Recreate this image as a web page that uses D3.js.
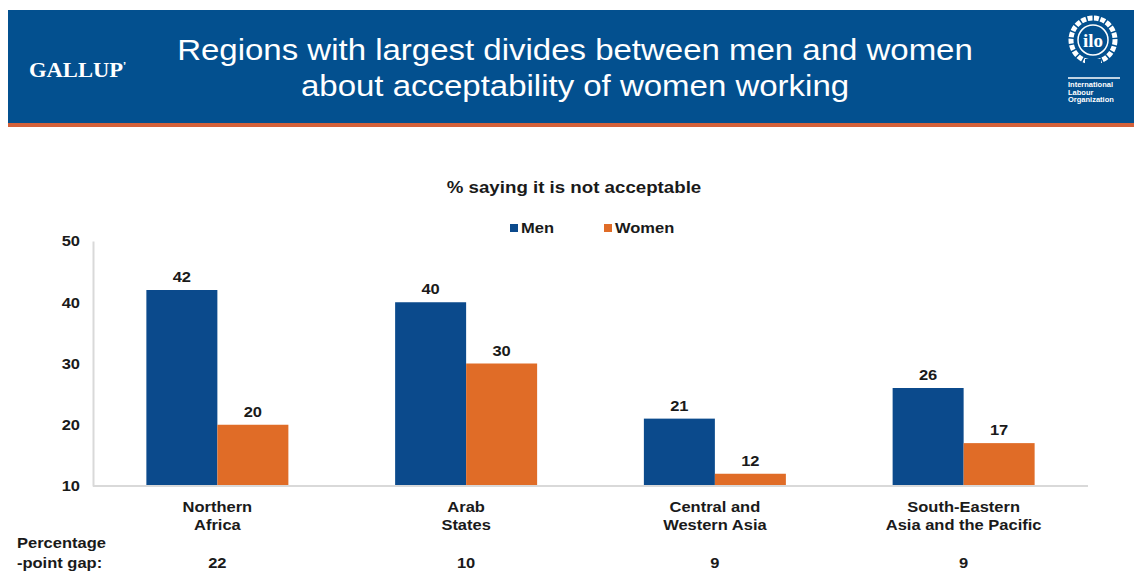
<!DOCTYPE html>
<html>
<head>
<meta charset="utf-8">
<script src="https://cdn.jsdelivr.net/npm/d3@7"></script>
<style>
  html, body { margin: 0; padding: 0; background: #fff; }
  svg { display: block; font-family: "Liberation Sans", Arial, sans-serif; }
</style>
</head>
<body>
<svg id="chart" width="1134" height="571"></svg>
<script>
// Survey results: share of respondents saying it is not acceptable for women to work
const regions = [
  ["Northern", "Africa"],
  ["Arab", "States"],
  ["Central and", "Western Asia"],
  ["South-Eastern", "Asia and the Pacific"]
];
const regionKeys = ["Northern Africa", "Arab States", "Central and Western Asia", "South-Eastern Asia and the Pacific"];
const men = [42, 40, 21, 26];
const women = [20, 30, 12, 17];
const gaps = [22, 10, 9, 9];
const seriesNames = ["Men", "Women"];
const yTicks = [10, 20, 30, 40, 50];

const W = 1134, H = 571;
const SX = 1.1; // slightly wide lettering
const colors = { Men: "#0b4a8c", Women: "#e06c27" };
const svg = d3.select("#chart");

function label(parent, x, y, text, opts = {}) {
  return parent.append("text")
    .attr("transform", `translate(${x},${y}) scale(${opts.sx || SX},1)`)
    .attr("text-anchor", opts.anchor || "middle")
    .attr("font-size", opts.size || 15)
    .attr("font-weight", opts.weight || "bold")
    .attr("fill", opts.fill || "#1a1a1a")
    .attr("font-family", opts.family || null)
    .text(text);
}

// ---- Header band ----
const header = svg.append("g");
header.append("rect").attr("x", 8).attr("y", 10).attr("width", W - 8).attr("height", 114).attr("fill", "#03508f");
header.append("rect").attr("x", 8).attr("y", 123).attr("width", W - 8).attr("height", 4).attr("fill", "#d4613a");

label(header, 575, 60, "Regions with largest divides between men and women", { size: 30, weight: "normal", fill: "#fff" });
label(header, 575, 96, "about acceptability of women working", { size: 30, weight: "normal", fill: "#fff" });

// Gallup wordmark
label(header, 29, 77, "GALLUP", { size: 20, weight: "bold", fill: "#fff", anchor: "start", family: "'Liberation Serif', 'DejaVu Serif', serif", sx: 1.0 })
  .attr("textLength", 94).attr("lengthAdjust", "spacingAndGlyphs");
header.append("text").attr("x", 123).attr("y", 70).attr("fill", "#fff")
  .attr("font-size", 11).attr("font-weight", "bold").text("’");

// ILO emblem
const ilo = header.append("g").attr("transform", "translate(1093,40)");
ilo.append("circle").attr("r", 22).attr("fill", "none").attr("stroke", "#fff").attr("stroke-width", 5)
  .attr("stroke-dasharray", "5 1.5");
ilo.append("circle").attr("r", 15).attr("fill", "none").attr("stroke", "#fff").attr("stroke-width", 1.5);
ilo.append("rect").attr("x", -8).attr("y", 19).attr("width", 16).attr("height", 6).attr("fill", "#03508f");
ilo.append("text").attr("y", 7).attr("text-anchor", "middle").attr("fill", "#fff")
  .attr("font-size", 19).attr("font-weight", "bold").attr("font-family", "'Liberation Serif', serif").text("ilo");
header.append("line").attr("x1", 1068).attr("x2", 1120).attr("y1", 78).attr("y2", 78)
  .attr("stroke", "#fff").attr("stroke-width", 1.5);
["International", "Labour", "Organization"].forEach((t, i) => {
  label(header, 1068, 87 + i * 7.5, t, { anchor: "start", size: 7.5, fill: "#fff", sx: 1.0 });
});

// ---- Chart ----
const x = d3.scaleBand().domain(regionKeys).range([93, 1088]).paddingInner(0).paddingOuter(0);
const innerPad = (x.bandwidth() - 142) / 2;
const xs = d3.scaleBand().domain(seriesNames).range([innerPad, x.bandwidth() - innerPad]).padding(0);
const y = d3.scaleLinear().domain([10, 50]).range([486, 241]);

label(svg, 574, 193, "% saying it is not acceptable", { size: 17 });

// Legend
const legend = svg.append("g");
[{ n: "Men", x: 510 }, { n: "Women", x: 604 }].forEach(d => {
  legend.append("rect").attr("x", d.x).attr("y", 224).attr("width", 8).attr("height", 8).attr("fill", colors[d.n]);
  label(legend, d.x + 11, 233, d.n, { anchor: "start", size: 15 });
});

// Y axis
const yAxis = svg.append("g").attr("transform", "translate(93,0)")
  .call(d3.axisLeft(y).tickValues(yTicks).tickSize(0).tickPadding(13));
yAxis.select(".domain").attr("stroke", "#d9d9d9").attr("stroke-width", 2);
yAxis.selectAll("text").attr("font-size", 15).attr("font-weight", "bold").attr("fill", "#1a1a1a")
  .attr("font-family", "'Liberation Sans', Arial, sans-serif")
  .attr("transform", `scale(${SX},1)`).attr("x", -13 / SX);

// Bars
const groups = svg.append("g").selectAll("g").data(regionKeys).join("g")
  .attr("transform", d => `translate(${x(d)},0)`);
groups.each(function(k, i) {
  const g = d3.select(this);
  const vals = [{ s: "Men", v: men[i] }, { s: "Women", v: women[i] }];
  g.selectAll("rect").data(vals).join("rect")
    .attr("x", d => xs(d.s)).attr("width", xs.bandwidth())
    .attr("y", d => y(d.v)).attr("height", d => y(10) - y(d.v))
    .attr("fill", d => colors[d.s]);
  vals.forEach(d => label(g, xs(d.s) + xs.bandwidth() / 2, y(d.v) - 8, d.v, { size: 15 }));
  label(g, x.bandwidth() / 2, 512, regions[i][0], { size: 15 });
  label(g, x.bandwidth() / 2, 530, regions[i][1], { size: 15 });
  label(g, x.bandwidth() / 2, 568, gaps[i], { size: 15 });
});

// X axis baseline
svg.append("line").attr("x1", 93).attr("x2", 1088).attr("y1", y(10)).attr("y2", y(10))
  .attr("stroke", "#d9d9d9").attr("stroke-width", 2);

label(svg, 17, 548, "Percentage", { anchor: "start", size: 15 });
label(svg, 17, 568, "-point gap:", { anchor: "start", size: 15 });
</script>
</body>
</html>
